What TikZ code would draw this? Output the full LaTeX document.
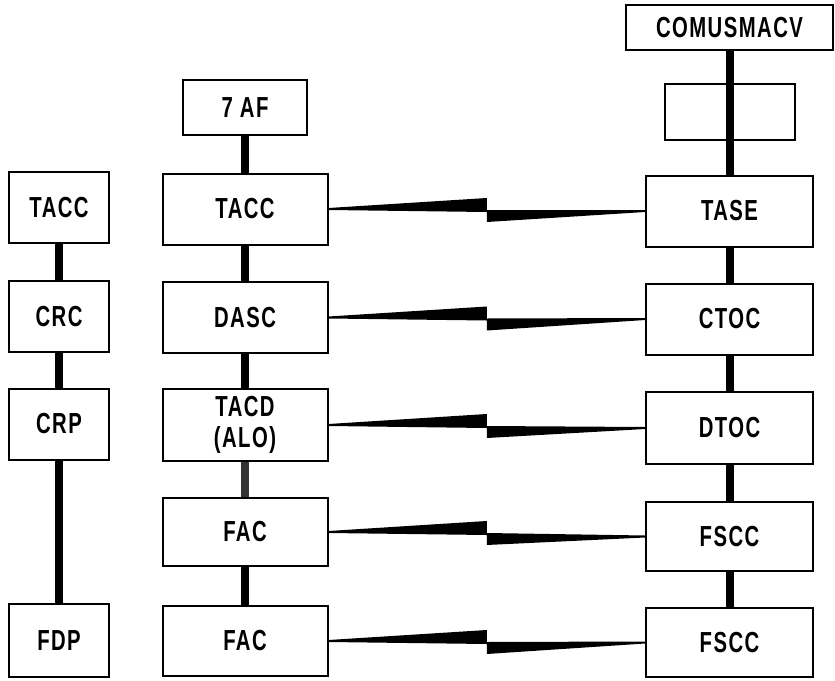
\documentclass[tikz,border=0pt]{standalone}
\usepackage{fontspec}
\setmainfont[FakeStretch=0.7,LetterSpace=5]{Liberation Sans}
\usetikzlibrary{calc}
\newcommand\boltlink[2]{%
  \fill let \p1=(#1.east), \p2=(#2.west), \p3=($(#1.east)!0.5!(#2.west)$) in
    (\x1,\y1+1pt) -- (\x3,\y1+11pt) -- (\x3,\y1-1pt) -- (\x2,\y2+1pt) --
    (\x2,\y2-1pt) -- (\x3,\y1-13pt) -- (\x3,\y1-3pt) -- (\x1,\y1-1pt) -- cycle;}
\begin{document}
\begin{tikzpicture}[x=1pt,y=-1pt,
  box/.style={draw,line width=2pt,inner sep=0pt,align=center,
    font=\fontsize{29}{31}\selectfont\bfseries},
  lbox/.style={box,minimum width=100pt,minimum height=71pt},
  mbox/.style={box,minimum width=165pt,minimum height=71pt},
  rbox/.style={box,minimum width=167pt,minimum height=71pt},
  vline/.style={line width=8pt}]
\useasboundingbox (0,0) rectangle (835,680);
% left column
\node[lbox] (l1) at (59,207.5) {TACC};
\node[lbox] (l2) at (59,316.5) {CRC};
\node[lbox] (l3) at (59,424) {CRP};
\node[lbox,minimum height=73pt] (l4) at (59,640.5) {FDP};
% middle column
\node[box,minimum width=124pt,minimum height=55pt] (m0) at (245,107.5) {7 AF};
\node[mbox] (m1) at (245,209) {TACC};
\node[mbox] (m2) at (245,317.5) {DASC};
\node[mbox,minimum height=72pt] (m3) at (245,425) {TACD\\(ALO)};
\node[mbox,minimum height=68pt] (m4) at (245,532) {FAC};
\node[mbox,minimum height=70pt] (m5) at (245,641) {FAC};
% right column
\node[box,minimum width=207pt,minimum height=45pt] (r0) at (729.5,27.5) {COMUSMACV};
\node[box,minimum width=130pt,minimum height=56pt] (re) at (730,112) {};
\node[rbox] (r1) at (729.5,211) {TASE};
\node[rbox] (r2) at (729.5,319) {CTOC};
\node[rbox,minimum height=72pt] (r3) at (729.5,428) {DTOC};
\node[rbox,minimum height=69pt] (r4) at (729.5,536.5) {FSCC};
\node[rbox,minimum height=69pt] (r5) at (729.5,642.5) {FSCC};
% vertical links
\draw[vline] (l1) -- (l2);
\draw[vline] (l2) -- (l3);
\draw[vline] (l3) -- (l4);
\draw[vline] (m0) -- (m1);
\draw[vline] (m1) -- (m2);
\draw[vline] (m2) -- (m3);
\draw[vline,black!80] (m3) -- (m4);
\draw[vline] (m4) -- (m5);
\draw[vline] (r0) -- (r1);
\draw[vline] (r1) -- (r2);
\draw[vline] (r2) -- (r3);
\draw[vline] (r3) -- (r4);
\draw[vline] (r4) -- (r5);
% lightning links
\boltlink{m1}{r1}
\boltlink{m2}{r2}
\boltlink{m3}{r3}
\boltlink{m4}{r4}
\boltlink{m5}{r5}
\end{tikzpicture}
\end{document}
